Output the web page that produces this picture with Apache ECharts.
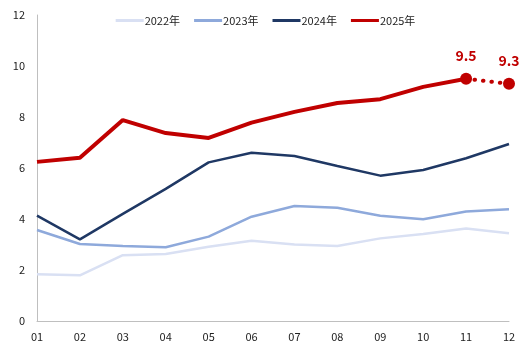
<!DOCTYPE html>
<html>
<head>
<meta charset="utf-8">
<script src="https://cdn.jsdelivr.net/npm/echarts@6/dist/echarts.min.js"></script>
<style>
  html, body { margin: 0; padding: 0; background: #fff; }
  #chart { width: 531px; height: 354px; }
</style>
</head>
<body>
<div id="chart"></div>
<script>
  // 月份
  var months = ['01', '02', '03', '04', '05', '06', '07', '08', '09', '10', '11', '12'];
  var y2022 = [1.83, 1.79, 2.58, 2.63, 2.91, 3.15, 3.0, 2.94, 3.24, 3.41, 3.63, 3.44];
  var y2023 = [3.57, 3.02, 2.94, 2.89, 3.31, 4.09, 4.51, 4.44, 4.13, 3.99, 4.29, 4.38];
  var y2024 = [4.13, 3.2, 4.2, 5.18, 6.22, 6.6, 6.47, 6.08, 5.7, 5.92, 6.38, 6.94];
  var y2025 = [6.24, 6.4, 7.88, 7.37, 7.18, 7.78, 8.2, 8.55, 8.7, 9.18, 9.5, null];
  var y2025Forecast = [null, null, null, null, null, null, null, null, null, null, 9.5, 9.3];
  var yTicks = [0, 2, 4, 6, 8, 10, 12];

  var chart = echarts.init(document.getElementById('chart'));
  var font = '"Noto Sans CJK SC", "Noto Sans", sans-serif';

  var option = {
    animation: false,
    textStyle: { fontFamily: font },
    grid: { left: 37, right: 22, top: 15, bottom: 33 },
    legend: {
      data: ['2022年', '2023年', '2024年', '2025年'],
      top: 10,
      left: 'center',
      icon: 'rect',
      itemWidth: 28,
      itemHeight: 3,
      itemGap: 14,
      textStyle: { fontSize: 11, color: '#222', fontFamily: font, padding: [0, 0, 0, -4] }
    },
    xAxis: {
      type: 'category',
      boundaryGap: false,
      data: months,
      axisLine: { lineStyle: { color: '#bfbfbf', width: 1 } },
      axisTick: { show: false },
      axisLabel: { color: '#222', fontSize: 11, margin: 10 }
    },
    yAxis: {
      type: 'value',
      min: yTicks[0],
      max: yTicks[yTicks.length - 1],
      interval: 2,
      splitLine: { show: false },
      axisLine: { show: true, lineStyle: { color: '#bfbfbf', width: 1 } },
      axisTick: { show: false },
      axisLabel: { color: '#222', fontSize: 11, margin: 12 }
    },
    series: [
      {
        name: '2022年', type: 'line', data: y2022, symbol: 'none',
        lineStyle: { color: '#D9E0F3', width: 2.5 }, itemStyle: { color: '#D9E0F3' }
      },
      {
        name: '2023年', type: 'line', data: y2023, symbol: 'none',
        lineStyle: { color: '#8EA9DB', width: 2.5 }, itemStyle: { color: '#8EA9DB' }
      },
      {
        name: '2024年', type: 'line', data: y2024, symbol: 'none',
        lineStyle: { color: '#1F3864', width: 2.5 }, itemStyle: { color: '#1F3864' }
      },
      {
        name: '2025年', type: 'line', data: y2025, symbol: 'none',
        lineStyle: { color: '#C00000', width: 4 }, itemStyle: { color: '#C00000' }
      },
      {
        name: '2025预测', type: 'line', data: y2025Forecast,
        symbol: 'circle', symbolSize: 12, showSymbol: true,
        lineStyle: { color: '#C00000', width: 4, type: [0.5, 8], cap: 'round' },
        itemStyle: { color: '#C00000' },
        label: {
          show: true, position: 'top', distance: 10,
          color: '#C00000', fontSize: 14, fontWeight: 'bold',
          formatter: function (p) { return p.value.toFixed(1); }
        }
      }
    ]
  };
  chart.setOption(option);
</script>
</body>
</html>
